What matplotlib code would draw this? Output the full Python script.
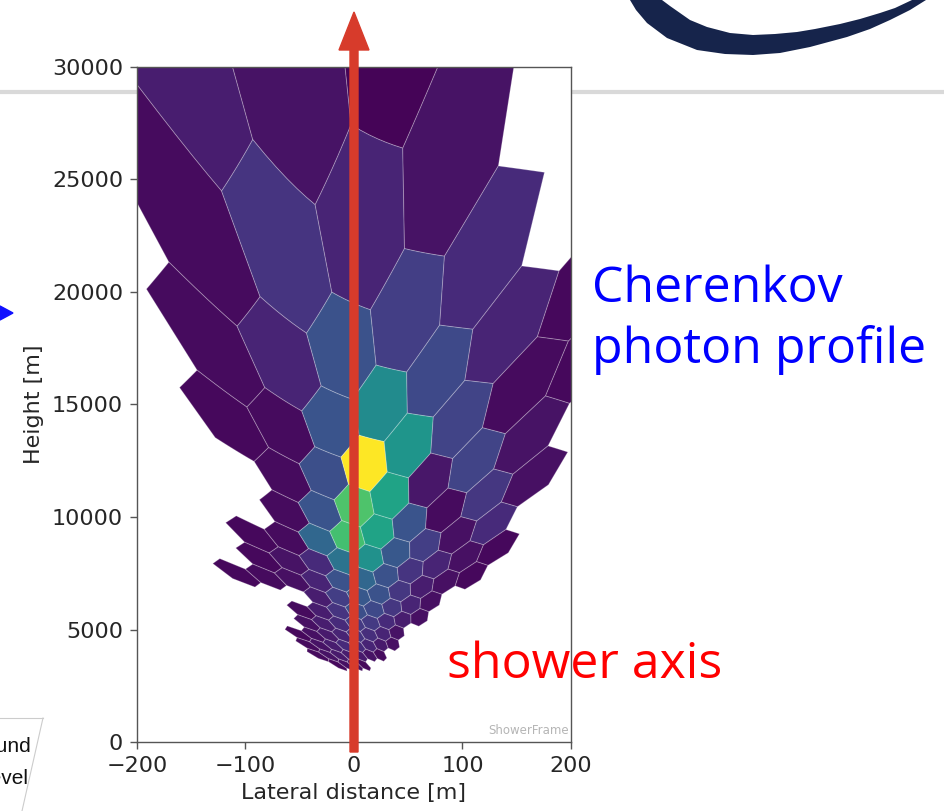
import numpy as np
import matplotlib
matplotlib.use("Agg")
import matplotlib.pyplot as plt
from matplotlib.collections import PolyCollection
from matplotlib.patches import FancyArrow, Polygon
from matplotlib.lines import Line2D
from matplotlib.transforms import Affine2D

nan = np.nan

# hexagonal camera bins: row index, first column index, photon counts per column (nan = empty bin)
hex_rows = [4, 3, 2, 1, 0, -1, -2, -3, -4, -5, -6, -7, -8, -9, -10, -11]
first_col = [-1, -2, -2, -3, -2, -3, -4, -5, -6, -4, -5, -6, -7, -8, -8, -8]
photons = [
    [8, 5, 1],
    [3, 15, 10, 5],
    [3, 10, 25, 18, 12],
    [2, 3, 26, 48, 22, 10, 2],
    [3, 24, 100, 52, 20, 3, 2],
    [3, 26, 72, 58, 6, 20, 5],
    [2, 3, 33, 70, 58, 26, 3, 16, 4],
    [2, 5, 12, 38, 50, 27, 18, 4, 12],
    [2, 3, 4, 10, 25, 33, 25, 15, 10, 4, 2],
    [8, 18, 27, 25, 16, 8, 4, 2],
    [3, 8, 15, 24, 22, 16, 10, 4],
    [4, 8, 12, 17, 17, 12, 8, 4],
    [2, 4, 7, 10, 15, 13, 10, 5],
    [3, 5, 8, 12, 12, 10, 7, 4],
    [3, 5, 7, 8, 7, 5, 3],
    [2, 4, 4, 2],
]

# camera geometry used to project the bins back onto the shower plane
D_TEL = 5000.0
Z_TEL = 2000.0
ROW_STEP = 0.0746
V_ROW0 = 1.096
U_COL0 = -1.1
PIX = 0.0036
Z_APEX = 1200.0
X_TEL = 54.0


def to_xz(u, v):
    z0 = Z_TEL + D_TEL * np.tan(v)
    x0 = X_TEL + PIX * u * (z0 - Z_APEX)
    x_bend = -60.0 * np.clip((z0 - 3000.0) / 9000.0, 0, 1)
    z = z0 + 0.1 * (z0 / 10000) * (x0 - x_bend) ** 2
    x = X_TEL + PIX * u * (z - Z_APEX)
    return x, z


def hex_outline(uc, vc, n=6):
    sy = 2 * ROW_STEP
    corners = [(0.5, -sy / 6), (0.5, sy / 6), (0, sy / 3), (-0.5, sy / 6), (-0.5, -sy / 6), (0, -sy / 3)]
    pts = []
    for k in range(6):
        a = corners[k]
        b = corners[(k + 1) % 6]
        for t in np.linspace(0, 1, n, endpoint=False):
            pts.append((uc + a[0] + t * (b[0] - a[0]), vc + a[1] + t * (b[1] - a[1])))
    pts = np.array(pts)
    x, z = to_xz(pts[:, 0], pts[:, 1])
    return np.column_stack([x, z])


polys = []
counts = []
for j, i0, vals in zip(hex_rows, first_col, photons):
    for k, val in enumerate(vals):
        if np.isnan(val):
            continue
        uc = U_COL0 + (i0 + k) + 0.5 * (j % 2)
        vc = V_ROW0 + ROW_STEP * j
        polys.append(hex_outline(uc, vc))
        counts.append(val)

fig = plt.figure(figsize=(9.45, 8.11), dpi=100)
px = Affine2D().scale(1 / 945, -1 / 811).translate(0, 1) + fig.transFigure

# slide header rule behind the plot
fig.add_artist(Line2D([0, 945], [92, 92], transform=px, color="#d9d9d9", lw=3, zorder=-1))

# logo swoosh in the top right corner
outer = [(630, 0), (636, 10), (647, 23), (667, 38), (697, 50), (725, 54), (753, 55), (780, 53), (810, 47),
         (847, 37), (870, 29), (890, 20), (910, 10), (926, 0)]
inner = [(912, 0), (895, 8), (880, 13), (860, 19), (840, 24), (815, 29), (797, 32), (775, 34), (753, 35),
         (730, 33), (707, 27), (690, 20), (680, 13), (670, 6), (662, 0)]
fig.add_artist(Polygon(outer + inner, closed=True, transform=px, facecolor="#16244b", edgecolor="none"))

ax = fig.add_axes([137 / 945, 69 / 811, 434 / 945, 675 / 811])
pc = PolyCollection(polys, array=np.array(counts, dtype=float), cmap="viridis",
                    edgecolors=(1, 1, 1, 0.25), linewidths=0.7)
pc.set_clim(0, 100)
ax.add_collection(pc)
ax.set_xlim(-200, 200)
ax.set_ylim(0, 30000)
ax.set_xticks([-200, -100, 0, 100, 200])
ax.set_yticks(np.arange(0, 30001, 5000))
ax.tick_params(labelsize=16, labelcolor="#262626", length=5, width=1, color="#555555", pad=5)
for s in ax.spines.values():
    s.set_color("#555555")
    s.set_linewidth(1)
ax.set_xlabel("Lateral distance [m]", fontsize=16, color="#262626", labelpad=5)
ax.set_ylabel("Height [m]", fontsize=16, color="#262626", labelpad=6)
ax.text(0.995, 0.008, "ShowerFrame", transform=ax.transAxes, ha="right", va="bottom",
        fontsize=8.5, color="#b5b5b5")

# shower axis arrow
fig.add_artist(FancyArrow(354, 752, 0, -740, width=8, head_width=30, head_length=38,
                          length_includes_head=True, transform=px, color="#d73b2b", zorder=5))

fig.text(592, 302, "Cherenkov", transform=px, fontsize=36, family="Open Sans", color="#0000ff", va="baseline")
fig.text(592, 363, "photon profile", transform=px, fontsize=36, family="Open Sans", color="#0000ff",
         va="baseline")
fig.text(447, 678, "shower axis", transform=px, fontsize=36, family="Open Sans", color="#ff0000",
         va="baseline")

# pointer arriving from the left and the ground level box
fig.add_artist(Polygon([(0, 306), (13, 313), (0, 320)], closed=True, transform=px, color="#1010ff"))
fig.add_artist(Line2D([0, 43], [718, 718], transform=px, color="#cccccc", lw=0.8))
fig.add_artist(Line2D([43, 22], [718, 811], transform=px, color="#cccccc", lw=0.8))
fig.text(31, 752, "Ground", transform=px, fontsize=15, family="Liberation Sans", ha="right", va="baseline",
         color="#111111")
fig.text(29, 784, "level", transform=px, fontsize=15, family="Liberation Sans", ha="right", va="baseline",
         color="#111111")

fig.savefig("out.png", dpi=100)
